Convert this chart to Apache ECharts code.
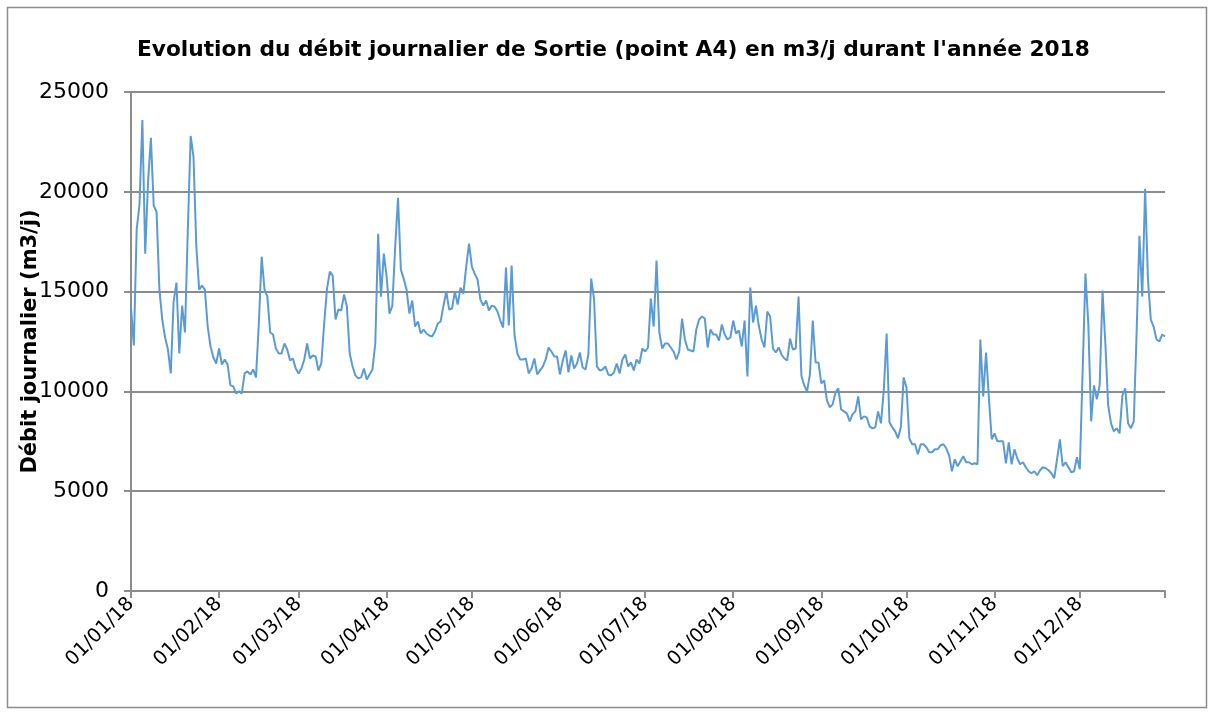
<!DOCTYPE html>
<html>
<head>
<meta charset="utf-8">
<script src="https://cdn.jsdelivr.net/npm/echarts@6/dist/echarts.min.js"></script>
<style>
  html, body { margin: 0; padding: 0; background: #ffffff; }
  #chart { width: 1214px; height: 715px; }
</style>
</head>
<body>
<div id="chart"></div>
<script>
// Chart texts
const titleText = "Evolution du débit journalier de Sortie (point A4) en m3/j durant l'année 2018";
const yAxisName = 'Débit journalier (m3/j)';

// Y axis scale (m3/j)
const yMin = 0;
const yMax = 25000;
const yStep = 5000;

// Month-start labels shown on the date axis
const monthLabels = ['01/01/18', '01/02/18', '01/03/18', '01/04/18', '01/05/18', '01/06/18',
                     '01/07/18', '01/08/18', '01/09/18', '01/10/18', '01/11/18', '01/12/18'];

// Daily outflow at point A4, 01/01/2018 .. 31/12/2018 (m3/j)
const debit2018 = [
  14200, 12300, 18100, 19400, 23600, 16900, 20500, 22700, 19300, 19000,
  15100, 13600, 12700, 12100, 10900, 14500, 15450, 11900, 14300, 12950,
  18100, 22800, 21750, 17250, 15100, 15300, 15100, 13250, 12250, 11700,
  11400, 12150, 11350, 11600, 11350, 10300, 10250, 9900, 10000, 9900,
  10900, 11000, 10850, 11100, 10700, 13400, 16750, 15100, 14750, 12950,
  12850, 12150, 11900, 11900, 12400, 12100, 11550, 11650, 11150, 10900,
  11150, 11600, 12400, 11650, 11800, 11750, 11050, 11400, 13400, 15150,
  16000, 15800, 13600, 14100, 14050, 14850, 14250, 11900, 11250, 10800,
  10650, 10700, 11150, 10600, 10850, 11100, 12400, 17900, 14750, 16900,
  15750, 13900, 14300, 17250, 19700, 16100, 15650, 15100, 13900, 14550,
  13250, 13500, 12900, 13100, 12900, 12800, 12750, 13000, 13400, 13500,
  14300, 15000, 14100, 14150, 15000, 14350, 15200, 14900, 16250, 17400,
  16250, 15900, 15600, 14600, 14300, 14550, 14050, 14300, 14250, 14000,
  13550, 13200, 16200, 13300, 16300, 12850, 11900, 11600, 11600, 11650,
  10900, 11150, 11650, 10850, 11050, 11250, 11600, 12200, 12000, 11750,
  11750, 10850, 11550, 12050, 10950, 11800, 11150, 11400, 11950, 11200,
  11100, 11850, 15650, 14650, 11250, 11050, 11100, 11250, 10850, 10800,
  10950, 11400, 10900, 11600, 11850, 11250, 11450, 11050, 11600, 11400,
  12150, 12000, 12200, 14650, 13250, 16550, 12950, 12150, 12400, 12400,
  12200, 12000, 11600, 12000, 13650, 12600, 12100, 12050, 12000, 13100,
  13600, 13750, 13650, 12200, 13100, 12850, 12850, 12550, 13350, 12850,
  12600, 12700, 13550, 12900, 13050, 12250, 13550, 10750, 15200, 13450,
  14300, 13300, 12600, 12200, 14000, 13750, 12150, 11950, 12200, 11850,
  11650, 11550, 12650, 12100, 12150, 14750, 10800, 10300, 10000, 10850,
  13550, 11450, 11450, 10400, 10550, 9550, 9200, 9350, 9950, 10150,
  9100, 9000, 8900, 8500, 8850, 9000, 9750, 8600, 8750, 8700,
  8250, 8150, 8200, 9000, 8400, 10050, 12900, 8450, 8200, 8000,
  7650, 8200, 10700, 10200, 7650, 7350, 7350, 6850, 7350, 7350,
  7200, 6950, 6950, 7100, 7100, 7300, 7350, 7150, 6800, 6000,
  6600, 6250, 6500, 6750, 6450, 6450, 6350, 6400, 6350, 12600,
  9750, 11950, 9700, 7600, 7900, 7500, 7500, 7500, 6400, 7450,
  6350, 7100, 6650, 6350, 6450, 6200, 6000, 5900, 6000, 5800,
  6050, 6200, 6150, 6050, 5900, 5650, 6600, 7600, 6250, 6450,
  6200, 5950, 6000, 6700, 6100, 11000, 15900, 13400, 8500, 10300,
  9600, 10300, 15050, 12400, 9300, 8400, 8000, 8150, 7900, 9800,
  10150, 8400, 8150, 8500, 12900, 17800, 14750, 20150, 15600, 13600,
  13250, 12600, 12500, 12850, 12750
];

// One category per day of 2018, written dd/mm/yy
const days = debit2018.map(function (_, i) {
  const d = new Date(Date.UTC(2018, 0, 1 + i));
  return String(d.getUTCDate()).padStart(2, '0') + '/' +
         String(d.getUTCMonth() + 1).padStart(2, '0') + '/18';
});

const gridGrey = '#8c8c8c';
const chart = echarts.init(document.getElementById('chart'), null, { renderer: 'canvas' });

chart.setOption({
  animation: false,
  backgroundColor: '#ffffff',
  title: {
    text: titleText,
    left: 132,
    top: 34,
    textStyle: { fontFamily: 'DejaVu Sans', fontWeight: 'bold', fontSize: 21.7, color: '#000000' }
  },
  graphic: [{
    type: 'rect',
    shape: { x: 7.5, y: 7.5, width: 1199, height: 700 },
    style: { fill: 'none', stroke: gridGrey, lineWidth: 1.5 },
    silent: true
  }],
  grid: { left: 131, right: 49, top: 92, bottom: 124, containLabel: false },
  xAxis: {
    type: 'category',
    data: days,
    boundaryGap: false,
    axisLine: { show: true, lineStyle: { color: gridGrey, width: 2 } },
    axisTick: {
      show: true,
      length: 7,
      lineStyle: { color: gridGrey, width: 2 },
      interval: function (idx, val) { return monthLabels.indexOf(val) >= 0 || idx === days.length - 1; }
    },
    axisLabel: {
      interval: function (idx, val) { return monthLabels.indexOf(val) >= 0; },
      rotate: 45,
      margin: 10,
      fontFamily: 'DejaVu Sans',
      fontSize: 19.5,
      color: '#000000'
    },
    splitLine: { show: false }
  },
  yAxis: {
    type: 'value',
    min: yMin,
    max: yMax,
    interval: yStep,
    name: yAxisName,
    nameLocation: 'middle',
    nameRotate: 90,
    nameGap: 90,
    nameMoveOverlap: false,
    nameTextStyle: { fontFamily: 'DejaVu Sans', fontWeight: 'bold', fontSize: 21, color: '#000000' },
    axisLine: { show: true, lineStyle: { color: gridGrey, width: 2 } },
    axisTick: { show: true, length: 7, lineStyle: { color: gridGrey, width: 2 } },
    axisLabel: {
      margin: 22,
      fontFamily: 'DejaVu Sans',
      fontSize: 22,
      color: '#000000',
      formatter: function (v) { return String(v); }
    },
    splitLine: { show: true, lineStyle: { color: gridGrey, width: 2 } }
  },
  series: [{
    type: 'line',
    data: debit2018,
    showSymbol: false,
    symbol: 'none',
    lineStyle: { color: '#5b9bd5', width: 2 },
    itemStyle: { color: '#5b9bd5' }
  }]
});
</script>
</body>
</html>
